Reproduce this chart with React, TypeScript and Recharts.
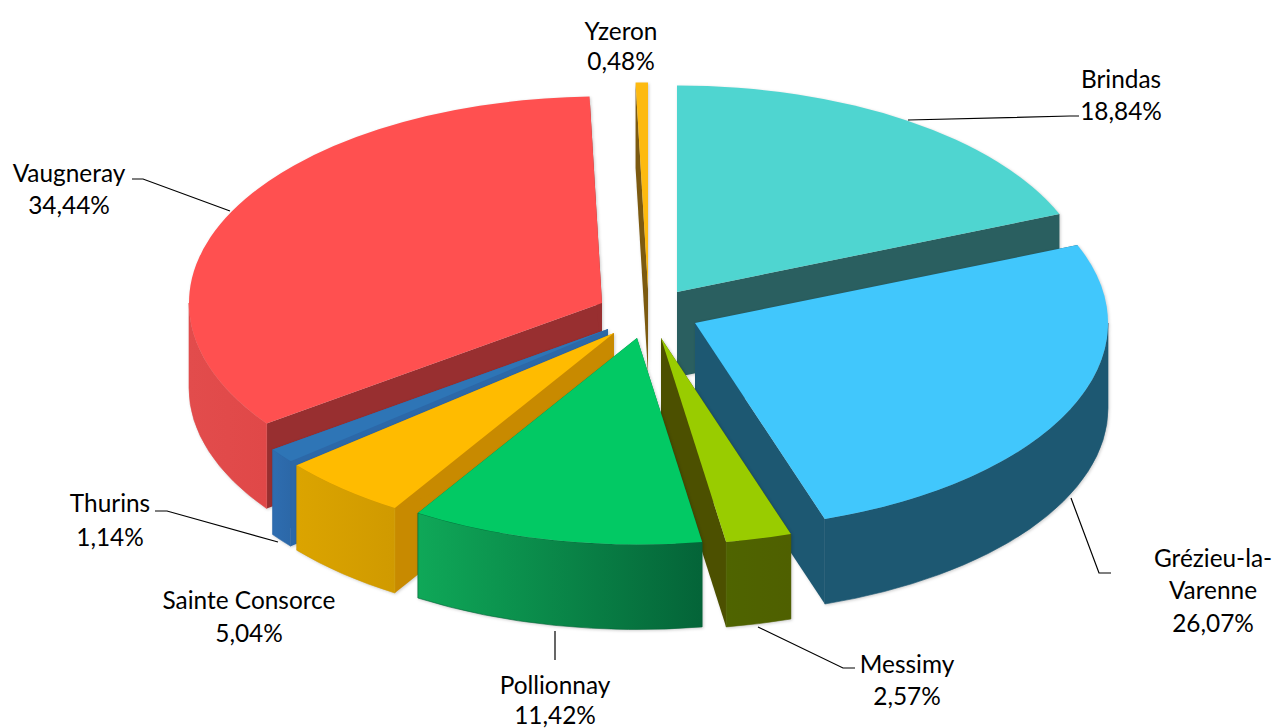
import React from "react";
import { PieChart, Pie } from "recharts";

const categories = ["Brindas", "Grézieu-la-Varenne", "Messimy", "Pollionnay", "Sainte Consorce", "Thurins", "Vaugneray", "Yzeron"];
const shares = [18.84, 26.07, 2.57, 11.42, 5.04, 1.14, 34.44, 0.48];
const labelLines = [["Brindas"], ["Grézieu-la-", "Varenne"], ["Messimy"], ["Pollionnay"], ["Sainte Consorce"], ["Thurins"], ["Vaugneray"], ["Yzeron"]];

const data = categories.map((name, i) => ({ name, value: shares[i] }));

// back to front, the chart is faked 3d so paint order matters
const drawOrder = ["Vaugneray", "Thurins", "Sainte Consorce", "Yzeron", "Brindas", "Grézieu-la-Varenne", "Messimy", "Pollionnay"];

const CX = 645;
const CY = 315;
const RADIUS = 413;
const SQUASH = 0.5;
const DEPTH = 85;

// how far each slice is pulled out of the pie
const explode: Record<string, [number, number]> = {
  Brindas: [32, -23],
  "Grézieu-la-Varenne": [50, 8],
  Messimy: [16, 23],
  Pollionnay: [-8, 23],
  "Sainte Consorce": [-31, 18],
  Thurins: [-37, 14],
  Vaugneray: [-43, -12],
  Yzeron: [3, -26],
};

const tops: Record<string, string> = {
  Brindas: "#4fd5d0",
  "Grézieu-la-Varenne": "#41c7fc",
  Messimy: "#99cc00",
  Pollionnay: "#02c964",
  "Sainte Consorce": "#ffbb00",
  Thurins: "#2e75b6",
  Vaugneray: "#ff5050",
  Yzeron: "#fdba10",
};

const cutWalls: Record<string, string> = {
  Brindas: "#2a5f60",
  "Grézieu-la-Varenne": "#1d5872",
  Messimy: "#4c5000",
  Pollionnay: "#046b38",
  "Sainte Consorce": "#c88a00",
  Thurins: "#2c68a8",
  Vaugneray: "#982f30",
  Yzeron: "#7c5a10",
};

const rimWalls: Record<string, [string, string]> = {
  "Grézieu-la-Varenne": ["#1d5872", "#1d5872"],
  Messimy: ["#4f6400", "#4f6000"],
  Pollionnay: ["#0fa858", "#046438"],
  "Sainte Consorce": ["#dba400", "#d09a00"],
  Thurins: ["#2e6db0", "#2c68a8"],
  Vaugneray: ["#e24c4c", "#e04848"],
};

// label centres and leader lines, in page pixels
const labelSpots: Record<string, { x: number; y: number; gap: number; line?: number[][] }> = {
  Brindas: { x: 1121, y: 78, gap: 32, line: [[908, 120], [1070, 116], [1079, 116]] },
  "Grézieu-la-Varenne": { x: 1213, y: 557, gap: 32.5, line: [[1071, 498], [1099, 573], [1111, 573]] },
  Messimy: { x: 907, y: 663, gap: 32, line: [[758, 627], [843, 668], [855, 668]] },
  Pollionnay: { x: 555, y: 684, gap: 30.5, line: [[555, 631], [555, 660]] },
  "Sainte Consorce": { x: 249, y: 599, gap: 33 },
  Thurins: { x: 110, y: 502, gap: 34, line: [[155, 511], [167, 511], [278, 542]] },
  Vaugneray: { x: 69, y: 172, gap: 32, line: [[132, 179], [143, 179], [230, 211]] },
  Yzeron: { x: 621, y: 30, gap: 30 },
};

const gradientId = (name: string) => "rim" + categories.indexOf(name);

function pt(ax: number, ay: number, cw: number) {
  const rad = (cw * Math.PI) / 180;
  return [ax + RADIUS * Math.sin(rad), ay - RADIUS * SQUASH * Math.cos(rad)];
}

function arc(to: number[], large: boolean, sweep: number) {
  return `A ${RADIUS} ${RADIUS * SQUASH} 0 ${large ? 1 : 0} ${sweep} ${to[0]} ${to[1]}`;
}

function Slice(props: any) {
  const { name, cx, cy, startAngle, endAngle } = props;
  const [dx, dy] = explode[name];
  const ax = cx + dx;
  const ay = cy + dy;
  const a0 = 90 - startAngle;
  const a1 = 90 - endAngle;
  const p0 = pt(ax, ay, a0);
  const p1 = pt(ax, ay, a1);

  const top = `M ${ax} ${ay} L ${p0[0]} ${p0[1]} ${arc(p1, a1 - a0 > 180, 1)} Z`;
  const cut0 = `M ${ax} ${ay} L ${p0[0]} ${p0[1]} L ${p0[0]} ${p0[1] + DEPTH} L ${ax} ${ay + DEPTH} Z`;
  const cut1 = `M ${ax} ${ay} L ${p1[0]} ${p1[1]} L ${p1[0]} ${p1[1] + DEPTH} L ${ax} ${ay + DEPTH} Z`;

  // only the front half of the rim can be seen
  const r0 = Math.max(a0, 90);
  const r1 = Math.min(a1, 270);
  let rim = null;
  if (r1 > r0) {
    const q0 = pt(ax, ay, r0);
    const q1 = pt(ax, ay, r1);
    const d = `M ${q0[0]} ${q0[1]} ${arc(q1, false, 1)} L ${q1[0]} ${q1[1] + DEPTH} ${arc([q0[0], q0[1] + DEPTH], false, 0)} Z`;
    rim = <path d={d} fill={`url(#${gradientId(name)})`} stroke={rimWalls[name][1]} strokeWidth={0.6} />;
  }

  return (
    <g style={{ filter: "drop-shadow(1px 1px 1.5px rgba(0,0,0,0.2))" }}>
      <path d={cut0} fill={cutWalls[name]} />
      <path d={cut1} fill={cutWalls[name]} />
      {rim}
      <path d={top} fill={tops[name]} />
    </g>
  );
}

function SliceLabel(props: any) {
  const { index } = props;
  const name = categories[index];
  const spot = labelSpots[name];
  const lines = [...labelLines[index], shares[index].toFixed(2).replace(".", ",") + "%"];
  return (
    <g>
      {spot.line && (
        <polyline points={spot.line.map((p) => p.join(",")).join(" ")} fill="none" stroke="#000" strokeWidth={1.2} />
      )}
      {lines.map((t, i) => (
        <text
          key={t}
          x={spot.x}
          y={spot.y + i * spot.gap}
          textAnchor="middle"
          dominantBaseline="central"
          fontFamily="Lato"
          fontSize={24.4}
          fill="#000"
        >
          {t}
        </text>
      ))}
    </g>
  );
}

export default function App() {
  return (
    <div style={{ position: "absolute", left: 0, top: 0, width: 1276, height: 728 }}>
      <PieChart width={1276} height={728} margin={{ top: 0, right: 0, bottom: 0, left: 0 }}>
        <defs>
          {Object.keys(rimWalls).map((name) => (
            <linearGradient key={name} id={gradientId(name)} x1="0" y1="0" x2="1" y2="0">
              <stop offset="0%" stopColor={rimWalls[name][0]} />
              <stop offset="100%" stopColor={rimWalls[name][1]} />
            </linearGradient>
          ))}
        </defs>
        {drawOrder.map((name, i) => (
          <Pie
            key={name}
            data={data}
            dataKey="value"
            nameKey="name"
            cx={CX}
            cy={CY}
            innerRadius={0}
            outerRadius={RADIUS}
            startAngle={90}
            endAngle={-270}
            isAnimationActive={false}
            labelLine={false}
            label={i === drawOrder.length - 1 ? SliceLabel : false}
            shape={(p: any) => (p.name === name ? <Slice {...p} /> : <g />)}
          />
        ))}
      </PieChart>
    </div>
  );
}
